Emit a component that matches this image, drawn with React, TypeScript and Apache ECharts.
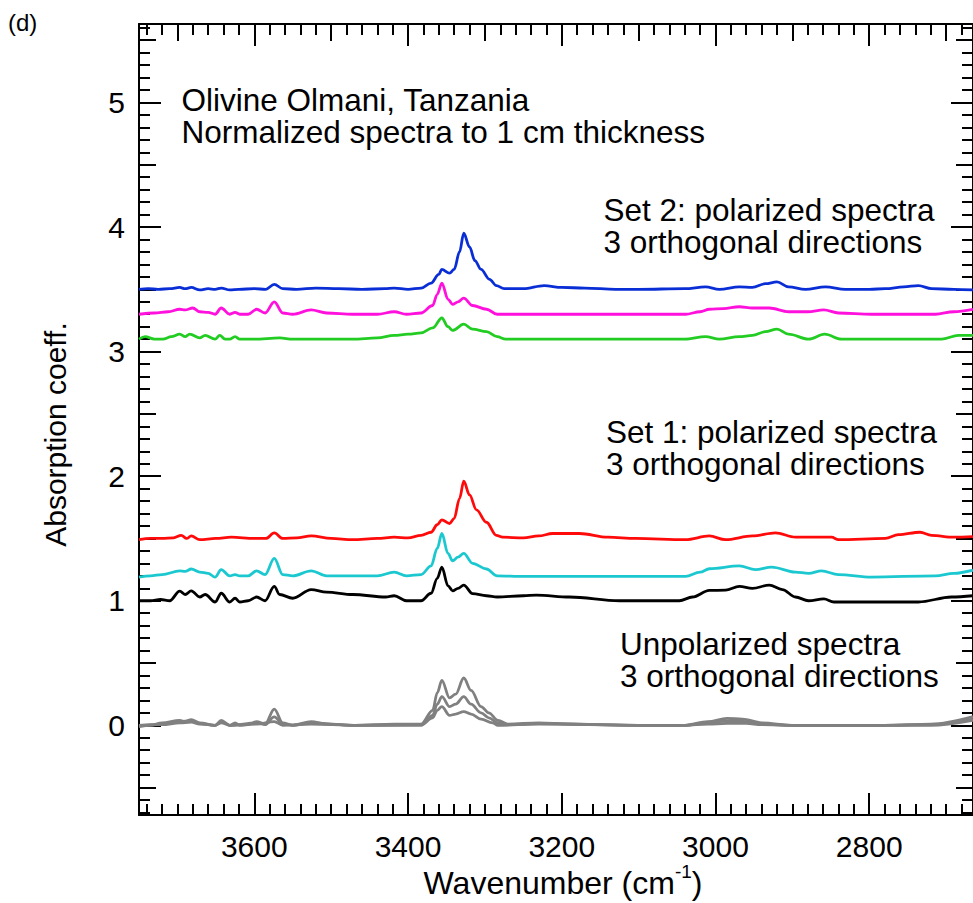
import React, { useEffect, useRef } from 'react';
import * as echarts from 'echarts';

const FONT = '"Liberation Sans", Arial, Helvetica, sans-serif';

// Axis ranges (wavenumber axis runs right-to-left)
const X_MIN = 2665;
const X_MAX = 3750;
const Y_MIN = -0.72;
const Y_MAX = 5.63;

// Tick positions
const X_MAJOR = [2800, 3000, 3200, 3400, 3600];
const X_MEDIUM = [2700, 2900, 3100, 3300, 3500, 3700];
const X_MINOR: number[] = [];
for (let v = 2680; v <= 3740; v += 20) X_MINOR.push(v);
const Y_MAJOR = [0, 1, 2, 3, 4, 5];
const Y_MEDIUM = [-0.5, 0.5, 1.5, 2.5, 3.5, 4.5, 5.5];
const Y_MINOR: number[] = [];
for (let k = -7; k <= 56; k++) Y_MINOR.push(Math.round(k) / 10);

// Set 2: polarized spectra
const set2Blue = [[3750,3.50],[3738,3.505],[3725,3.50],[3710,3.505],[3697,3.515],[3690,3.505],[3682,3.515],[3671,3.495],[3660,3.505],[3651,3.50],[3643,3.51],[3632,3.495],[3620,3.50],[3600,3.505],[3585,3.50],[3574,3.54],[3563,3.505],[3545,3.50],[3520,3.51],[3490,3.505],[3460,3.50],[3430,3.505],[3418,3.51],[3400,3.50],[3383,3.51],[3370,3.55],[3360,3.62],[3356,3.66],[3346,3.63],[3340,3.66],[3333,3.80],[3327.5,3.95],[3320,3.84],[3313,3.73],[3305,3.66],[3294,3.58],[3285,3.53],[3275,3.505],[3250,3.505],[3223,3.53],[3200,3.515],[3170,3.51],[3130,3.50],[3100,3.50],[3040,3.505],[3013,3.52],[2995,3.50],[2969,3.52],[2952,3.515],[2935,3.545],[2920,3.56],[2905,3.52],[2883,3.50],[2857,3.52],[2831,3.50],[2800,3.50],[2779,3.505],[2755,3.52],[2736,3.53],[2719,3.505],[2690,3.50],[2665,3.495]];
const set2Magenta = [[3750,3.30],[3730,3.31],[3712,3.32],[3697,3.34],[3690,3.335],[3680,3.35],[3671,3.32],[3660,3.315],[3651,3.30],[3643,3.35],[3632,3.30],[3625,3.315],[3619,3.30],[3608,3.30],[3597,3.34],[3586,3.31],[3574,3.40],[3563,3.31],[3550,3.30],[3526,3.335],[3506,3.31],[3472,3.30],[3440,3.30],[3418,3.32],[3402,3.30],[3383,3.31],[3368,3.37],[3362,3.46],[3356,3.55],[3348,3.42],[3342,3.38],[3335,3.40],[3327.5,3.43],[3316,3.37],[3298,3.34],[3284,3.30],[3250,3.30],[3200,3.30],[3150,3.30],[3100,3.30],[3039,3.30],[3020,3.32],[3008,3.34],[2990,3.345],[2969,3.36],[2952,3.35],[2930,3.35],[2905,3.32],[2880,3.32],[2859,3.335],[2840,3.31],[2797,3.30],[2760,3.30],[2714,3.30],[2690,3.32],[2665,3.34]];
const set2Green = [[3750,3.10],[3742,3.12],[3730,3.10],[3719,3.10],[3708,3.12],[3697,3.14],[3690,3.12],[3684,3.14],[3671,3.11],[3664,3.13],[3651,3.10],[3645,3.13],[3638,3.10],[3632,3.10],[3625,3.12],[3619,3.10],[3600,3.10],[3567,3.11],[3550,3.10],[3500,3.10],[3472,3.10],[3440,3.11],[3418,3.13],[3400,3.14],[3383,3.15],[3368,3.19],[3356,3.27],[3348,3.20],[3342,3.17],[3327.5,3.22],[3316,3.18],[3298,3.16],[3284,3.12],[3273,3.10],[3200,3.10],[3100,3.10],[3040,3.10],[3013,3.12],[2995,3.10],[2969,3.12],[2952,3.13],[2935,3.16],[2920,3.18],[2905,3.14],[2879,3.10],[2858,3.14],[2836,3.10],[2780,3.10],[2706,3.10],[2684,3.13],[2665,3.13]];

// Set 1: polarized spectra
const set1Red = [[3750,1.49],[3735,1.50],[3720,1.50],[3705,1.505],[3695,1.525],[3688,1.50],[3682,1.52],[3671,1.49],[3650,1.50],[3630,1.51],[3600,1.50],[3585,1.50],[3574,1.545],[3563,1.50],[3545,1.505],[3526,1.52],[3500,1.50],[3472,1.49],[3440,1.50],[3418,1.51],[3400,1.505],[3383,1.525],[3370,1.55],[3362,1.61],[3356,1.65],[3346,1.62],[3340,1.66],[3333,1.82],[3327.5,1.96],[3320,1.85],[3311,1.73],[3298,1.63],[3285,1.525],[3277,1.51],[3250,1.505],[3230,1.52],[3212,1.54],[3177,1.54],[3140,1.51],[3104,1.50],[3039,1.49],[3008,1.52],[2987,1.49],[2952,1.52],[2922,1.545],[2896,1.51],[2849,1.51],[2840,1.49],[2779,1.50],[2762,1.53],[2734,1.55],[2719,1.525],[2690,1.51],[2665,1.515]];
const set1Cyan = [[3750,1.19],[3735,1.20],[3720,1.21],[3697,1.24],[3690,1.235],[3682,1.255],[3671,1.23],[3660,1.22],[3651,1.19],[3643,1.25],[3632,1.20],[3625,1.21],[3619,1.20],[3608,1.20],[3597,1.24],[3586,1.21],[3574,1.34],[3563,1.21],[3550,1.20],[3526,1.24],[3506,1.20],[3472,1.20],[3440,1.20],[3418,1.23],[3402,1.20],[3383,1.21],[3370,1.28],[3362,1.42],[3356,1.54],[3348,1.38],[3342,1.32],[3335,1.35],[3327.5,1.38],[3316,1.30],[3298,1.255],[3284,1.20],[3250,1.195],[3150,1.195],[3039,1.196],[3020,1.23],[3008,1.257],[2969,1.28],[2948,1.25],[2927,1.27],[2896,1.23],[2879,1.22],[2862,1.24],[2840,1.21],[2797,1.19],[2714,1.20],[2690,1.22],[2665,1.245]];
const set1Black = [[3750,1.00],[3735,1.00],[3722,1.01],[3710,1.00],[3697,1.078],[3690,1.05],[3682,1.08],[3671,1.03],[3664,1.05],[3651,0.99],[3643,1.06],[3632,0.99],[3625,1.02],[3619,0.99],[3608,1.00],[3597,1.03],[3586,1.00],[3574,1.115],[3567,1.05],[3550,1.02],[3526,1.09],[3506,1.07],[3472,1.05],[3429,1.03],[3418,1.04],[3402,1.00],[3383,1.00],[3370,1.06],[3362,1.18],[3356,1.27],[3348,1.12],[3342,1.08],[3335,1.10],[3327.5,1.125],[3316,1.057],[3298,1.04],[3284,1.03],[3250,1.04],[3233,1.045],[3190,1.03],[3125,1.00],[3047,1.00],[3030,1.03],[3008,1.083],[2987,1.085],[2969,1.115],[2952,1.10],[2930,1.125],[2913,1.09],[2896,1.03],[2879,1.00],[2859,1.015],[2846,0.99],[2736,0.99],[2693,1.03],[2665,1.04]];

// Unpolarized spectra, 3 orthogonal directions
const unpolA = [[3750,-0.01],[3735,0.0],[3720,0.02],[3697,0.04],[3690,0.03],[3682,0.045],[3671,0.02],[3651,0.0],[3643,0.04],[3632,0.0],[3625,0.02],[3619,0.0],[3608,0.005],[3597,0.03],[3586,0.01],[3574,0.13],[3563,0.02],[3550,0.0],[3526,0.03],[3506,0.01],[3470,0.0],[3418,0.01],[3383,0.01],[3368,0.12],[3362,0.26],[3356,0.36],[3346,0.22],[3338,0.25],[3327.5,0.38],[3318,0.28],[3305,0.15],[3295,0.10],[3283,0.04],[3270,0.01],[3230,0.02],[3190,0.01],[3100,0.0],[3040,0.0],[3010,0.03],[2985,0.055],[2965,0.05],[2940,0.02],[2900,0.0],[2850,0.0],[2780,0.0],[2720,0.01],[2665,0.07]];
const unpolB = [[3750,0.0],[3735,0.005],[3720,0.01],[3697,0.03],[3682,0.035],[3671,0.015],[3651,0.0],[3643,0.03],[3632,0.0],[3597,0.02],[3586,0.005],[3574,0.067],[3563,0.01],[3550,0.0],[3526,0.02],[3470,0.0],[3383,0.005],[3368,0.08],[3362,0.17],[3356,0.23],[3346,0.15],[3338,0.17],[3327.5,0.23],[3318,0.17],[3305,0.10],[3295,0.06],[3283,0.02],[3270,0.005],[3230,0.015],[3100,0.0],[3040,0.0],[3010,0.02],[2985,0.035],[2960,0.03],[2940,0.01],[2900,0.0],[2780,0.0],[2720,0.005],[2665,0.05]];
const unpolC = [[3750,-0.005],[3720,0.005],[3697,0.02],[3682,0.025],[3671,0.01],[3651,0.0],[3643,0.02],[3632,0.0],[3597,0.01],[3574,0.03],[3563,0.0],[3526,0.01],[3470,0.0],[3383,0.0],[3368,0.06],[3362,0.12],[3356,0.15],[3346,0.08],[3338,0.09],[3327.5,0.11],[3318,0.09],[3305,0.05],[3290,0.02],[3283,0.0],[3230,0.01],[3100,0.0],[3040,0.0],[3010,0.01],[2985,0.015],[2960,0.015],[2940,0.005],[2900,0.0],[2780,0.0],[2720,0.0],[2665,0.04]];

const SERIES = [
  { name: 'Unpolarized 1', data: unpolA, color: '#808080' },
  { name: 'Unpolarized 2', data: unpolB, color: '#808080' },
  { name: 'Unpolarized 3', data: unpolC, color: '#808080' },
  { name: 'Set 1 a', data: set1Black, color: '#000000' },
  { name: 'Set 1 b', data: set1Cyan, color: '#1cc8d0' },
  { name: 'Set 1 c', data: set1Red, color: '#ff0a0a' },
  { name: 'Set 2 a', data: set2Green, color: '#22cc22' },
  { name: 'Set 2 b', data: set2Magenta, color: '#ff10dc' },
  { name: 'Set 2 c', data: set2Blue, color: '#0a2ed6' },
];

const ANNO_SIZE = 31.5;
const ANNO_LINE = 32;
// Two-line annotation blocks: left x and baseline of first line
const ANNOTATIONS = [
  { text: 'Olivine Olmani, Tanzania\nNormalized spectra to 1 cm thickness', x: 181.5, base: 111 },
  { text: 'Set 2: polarized spectra\n3 orthogonal directions', x: 603.5, base: 221 },
  { text: 'Set 1: polarized spectra\n3 orthogonal directions', x: 606, base: 442.5 },
  { text: 'Unpolarized spectra\n3 orthogonal directions', x: 620, base: 655 },
];

const tickStyle = { color: '#000', width: 2 };

function xAxisDef(position: 'top' | 'bottom', ticks: number[], len: number, line: boolean, labels: boolean) {
  return {
    type: 'value',
    position,
    min: X_MIN,
    max: X_MAX,
    inverse: true,
    axisLine: { show: line, onZero: false, lineStyle: { color: '#000', width: 2 } },
    axisTick: { show: true, inside: true, length: len, lineStyle: tickStyle, customValues: ticks },
    axisLabel: labels
      ? { show: true, customValues: ticks, margin: 16, fontSize: 30, color: '#000', fontFamily: FONT, formatter: (v: number) => String(v) }
      : { show: false },
    splitLine: { show: false },
    minorTick: { show: false },
  };
}

function yAxisDef(position: 'left' | 'right', ticks: number[], len: number, line: boolean, labels: boolean) {
  return {
    type: 'value',
    position,
    min: Y_MIN,
    max: Y_MAX,
    axisLine: { show: line, onZero: false, lineStyle: { color: '#000', width: 2 } },
    axisTick: { show: true, inside: true, length: len, lineStyle: tickStyle, customValues: ticks },
    axisLabel: labels
      ? { show: true, customValues: ticks, margin: 14, fontSize: 30, color: '#000', fontFamily: FONT, formatter: (v: number) => String(v) }
      : { show: false },
    splitLine: { show: false },
    minorTick: { show: false },
  };
}

export default function App() {
  const ref = useRef<HTMLDivElement>(null);
  useEffect(() => {
    if (!ref.current) return;
    const chart = echarts.init(ref.current, null, { renderer: 'svg' });
    const graphics: any[] = ANNOTATIONS.map((a) => ({
      type: 'text',
      x: a.x,
      y: a.base - 0.3465 * ANNO_SIZE - ANNO_LINE / 2,
      silent: true,
      style: {
        text: a.text,
        font: `${ANNO_SIZE}px ${FONT}`,
        lineHeight: ANNO_LINE,
        fill: '#000',
        align: 'left',
        verticalAlign: 'top',
      },
    }));
    graphics.push({
      type: 'text', x: 8, y: 22, silent: true,
      style: { text: '(d)', font: `24px ${FONT}`, fill: '#000', align: 'left', verticalAlign: 'middle' },
    });
    graphics.push({
      type: 'text', x: 55.6, y: 434.5, rotation: Math.PI / 2, silent: true,
      style: { text: 'Absorption coeff.', font: `30px ${FONT}`, fill: '#000', align: 'center', verticalAlign: 'middle' },
    });
    graphics.push({
      type: 'text', x: 563, y: 883, silent: true,
      style: {
        text: '{a|Wavenumber (cm}{b|-1}{a|)}',
        align: 'center', verticalAlign: 'middle', fill: '#000',
        rich: {
          a: { fontSize: 32, fontFamily: FONT, color: '#000', lineHeight: 42 },
          b: { fontSize: 19, fontFamily: FONT, color: '#000', lineHeight: 13, verticalAlign: 'top' },
        },
      },
    });

    chart.setOption({
      animation: false,
      backgroundColor: '#fff',
      grid: { left: 139, top: 24, width: 838.5, height: 791, containLabel: false },
      xAxis: [
        xAxisDef('bottom', X_MAJOR, 22, true, true),
        xAxisDef('bottom', X_MINOR, 11, false, false),
        xAxisDef('top', X_MAJOR, 22, true, false),
        xAxisDef('top', X_MEDIUM, 17, false, false),
        xAxisDef('top', X_MINOR, 11, false, false),
      ],
      yAxis: [
        yAxisDef('left', Y_MAJOR, 22, true, true),
        yAxisDef('left', Y_MEDIUM, 17, false, false),
        yAxisDef('left', Y_MINOR, 11, false, false),
        yAxisDef('right', Y_MAJOR, 22, true, false),
        yAxisDef('right', Y_MEDIUM, 17, false, false),
        yAxisDef('right', Y_MINOR, 11, false, false),
      ],
      series: SERIES.map((s) => ({
        name: s.name,
        type: 'line',
        xAxisIndex: 0,
        yAxisIndex: 0,
        data: s.data,
        showSymbol: false,
        smooth: 0.35,
        smoothMonotone: 'x',
        lineStyle: { color: s.color, width: 2.8 },
        itemStyle: { color: s.color },
        silent: true,
      })),
      graphic: graphics,
    });
    return () => chart.dispose();
  }, []);
  return <div ref={ref} style={{ position: 'absolute', left: 0, top: 0, width: 973, height: 903 }} />;
}
